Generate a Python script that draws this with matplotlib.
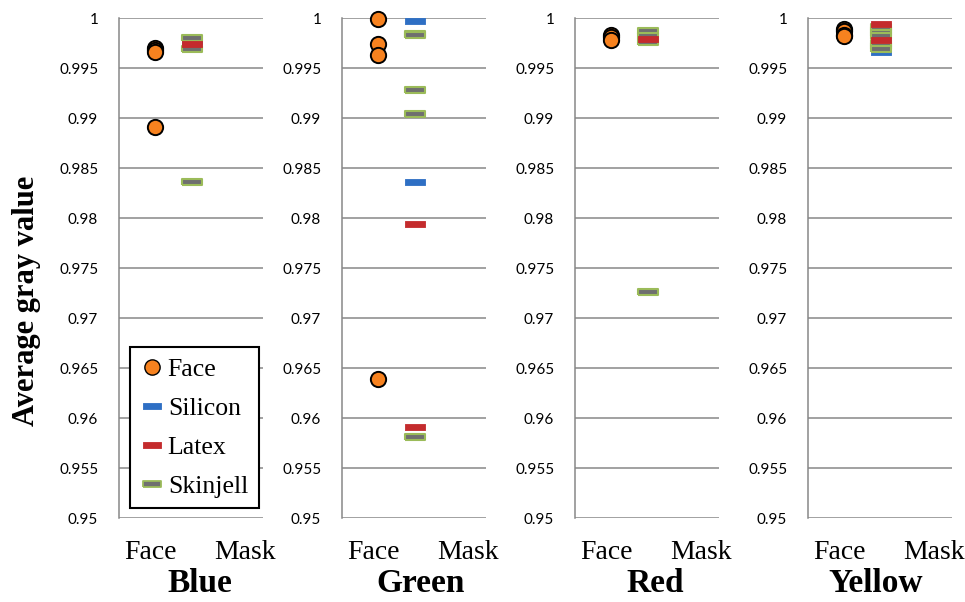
import matplotlib
matplotlib.use("Agg")
import matplotlib.pyplot as plt
from matplotlib.lines import Line2D
from matplotlib.font_manager import FontProperties

# ---- data ---------------------------------------------------------------
panels = ["Blue", "Green", "Red", "Yellow"]

face = {
    "Blue":   [0.9970, 0.9968, 0.9966, 0.9891],
    "Green":  [0.9999, 0.9974, 0.9963, 0.9639],
    "Red":    [0.9983, 0.9981, 0.9978],
    "Yellow": [0.9989, 0.9987, 0.9983, 0.9982],
}
silicon = {
    "Blue":   [0.9977],
    "Green":  [0.9997, 0.9836],
    "Red":    [0.9984],
    "Yellow": [0.9966],
}
latex = {
    "Blue":   [0.9974],
    "Green":  [0.9794, 0.9591],
    "Red":    [0.9979],
    "Yellow": [0.9994, 0.9978],
}
skinjell = {
    "Blue":   [0.9980, 0.9969, 0.9836],
    "Green":  [0.9984, 0.9983, 0.9928, 0.9904, 0.9581],
    "Red":    [0.9987, 0.9982, 0.9976, 0.9726],
    "Yellow": [0.9991, 0.9988, 0.9985, 0.9982, 0.9975, 0.9972, 0.9969],
}

categories = ["Face", "Mask"]
cat_x = [1, 2]
y_ticks = [0.95, 0.955, 0.96, 0.965, 0.97, 0.975, 0.98, 0.985, 0.99, 0.995, 1.0]
y_tick_labels = ["0.95", "0.955", "0.96", "0.965", "0.97", "0.975",
                 "0.98", "0.985", "0.99", "0.995", "1"]

# ---- style --------------------------------------------------------------
ORANGE = "#f7821f"
BLUE = "#2e6fc4"
RED = "#c42b2d"
GREEN = "#9bbb59"
GRAY = "#6f6f6f"
GRID = "#878787"
SERIF = "Liberation Serif"

# flat bar marker used for the mask series
bar = [(-1, -0.28), (1, -0.28), (1, 0.28), (-1, 0.28), (-1, -0.28)]

W, H = 965, 602
fig = plt.figure(figsize=(W / 100, H / 100), dpi=100)

lefts = [119, 342, 575, 808]
title_x = [200, 421, 655, 876]
ax_w, top, bottom = 144, 18, 518


def px_rect(left, width):
    return [left / W, 1 - bottom / H, width / W, (bottom - top) / H]


for name, left, tx in zip(panels, lefts, title_x):
    ax = fig.add_axes(px_rect(left, ax_w))
    ax.set_xlim(0, 3.95)
    ax.set_ylim(0.95, 1.0)

    for s in ["top", "right", "bottom"]:
        ax.spines[s].set_visible(False)
    ax.spines["left"].set_color(GRID)
    ax.spines["left"].set_linewidth(1.1)

    ax.set_yticks(y_ticks)
    ax.set_yticklabels(y_tick_labels, family="Lato", fontsize=11)
    ax.tick_params(axis="y", length=0, pad=15)
    ax.yaxis.grid(True, color=GRID, linewidth=1.1)
    ax.set_axisbelow(True)

    ax.set_xticks([0.85, 3.45])
    ax.set_xticklabels(categories, family=SERIF, fontsize=20)
    ax.tick_params(axis="x", length=0, pad=16)

    mx = cat_x[1]
    ax.plot([cat_x[0]] * len(face[name]), face[name], "o", ms=11,
            mfc=ORANGE, mec="black", mew=1.4, ls="none", zorder=3,
            clip_on=False)
    ax.plot([mx] * len(silicon[name]), silicon[name], marker=bar, ms=14,
            mfc=BLUE, mec=BLUE, mew=0.6, ls="none", zorder=4, clip_on=False)
    ax.plot([mx] * len(skinjell[name]), skinjell[name], marker=bar, ms=14,
            mfc=GRAY, mec=GREEN, mew=1.5, ls="none", zorder=4, clip_on=False)
    ax.plot([mx] * len(latex[name]), latex[name], marker=bar, ms=14,
            mfc=RED, mec=RED, mew=0.6, ls="none", zorder=5, clip_on=False)

    fig.text(tx / W, 1 - 592 / H, name, family=SERIF,
             fontweight="bold", fontsize=24, ha="center", va="baseline")

fig.text(27 / W, 0.5, "Average gray value", family=SERIF,
         fontweight="bold", fontsize=22, rotation=90, ha="center", va="center")

handles = [
    Line2D([], [], marker="o", ms=11, mfc=ORANGE, mec="black", mew=1.0, ls="none"),
    Line2D([], [], marker=bar, ms=13, mfc=BLUE, mec=BLUE, mew=0.6, ls="none"),
    Line2D([], [], marker=bar, ms=13, mfc=RED, mec=RED, mew=0.6, ls="none"),
    Line2D([], [], marker=bar, ms=13, mfc=GRAY, mec=GREEN, mew=1.3, ls="none"),
]
leg = fig.legend(handles, ["Face", "Silicon", "Latex", "Skinjell"],
                 loc="upper left", bbox_to_anchor=(130 / W, 1 - 347 / H),
                 bbox_transform=fig.transFigure, borderaxespad=0,
                 prop=FontProperties(family=SERIF, size=18.5),
                 frameon=True, fancybox=False, edgecolor="black",
                 framealpha=1, handlelength=0.9, handletextpad=0.15,
                 labelspacing=0.62, borderpad=0.42)
for t in leg.get_texts():
    t.set_fontfamily(SERIF)
leg.get_frame().set_linewidth(1.5)
leg.set_zorder(10)

fig.savefig("out.png", dpi=100)
